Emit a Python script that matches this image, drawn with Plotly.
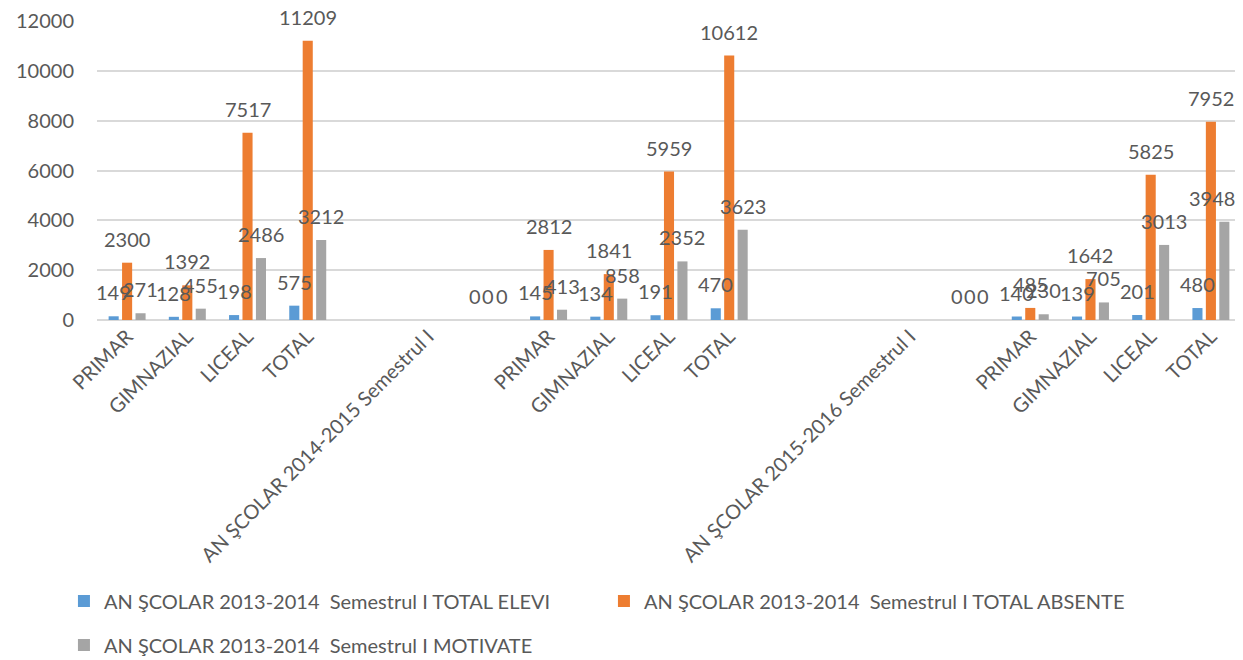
import plotly.graph_objects as go

categories = ["PRIMAR", "GIMNAZIAL", "LICEAL", "TOTAL", "", "AN ŞCOLAR 2014-2015 Semestrul I", "",
              "PRIMAR", "GIMNAZIAL", "LICEAL", "TOTAL", "", "", "AN ŞCOLAR 2015-2016 Semestrul I", "",
              "PRIMAR", "GIMNAZIAL", "LICEAL", "TOTAL"]

total_elevi = [149, 128, 198, 575, None, None, 0,
               145, 134, 191, 470, None, None, None, 0,
               140, 139, 201, 480]
total_absente = [2300, 1392, 7517, 11209, None, None, 0,
                 2812, 1841, 5959, 10612, None, None, None, 0,
                 485, 1642, 5825, 7952]
motivate = [271, 455, 2486, 3212, None, None, 0,
            413, 858, 2352, 3623, None, None, None, 0,
            230, 705, 3013, 3948]

series_names = ["AN ŞCOLAR 2013-2014  Semestrul I TOTAL ELEVI",
                "AN ŞCOLAR 2013-2014  Semestrul I TOTAL ABSENTE",
                "AN ŞCOLAR 2013-2014  Semestrul I MOTIVATE"]
series_values = [total_elevi, total_absente, motivate]
colors = ["#5B9BD5", "#ED7D31", "#A5A5A5"]

FONT = "Lato"
TXT = "#595959"
# the page body adds an 8px margin, so the figure is drawn 8px smaller
W, H = 1235, 652
ML, MR, MT, MB = 89, 2, 13, 340
BARGAP = 0.33

x_idx = list(range(len(categories)))
fig = go.Figure()
for i, (name, vals, col) in enumerate(zip(series_names, series_values, colors)):
    fig.add_trace(go.Bar(
        x=x_idx, y=vals, name=name, marker=dict(color=col, line=dict(width=0)),
        legend="legend" if i < 2 else "legend2",
    ))

# data labels (kept inside the chart area at the right edge, as the original does)
cat_px = (W - ML - MR) / len(categories)
pitch = cat_px * (1 - BARGAP) / 3
annotations = []
last = len(categories) - 1
for k, vals in enumerate(series_values):
    for xi, v in zip(x_idx, vals):
        if v is None:
            continue
        at_edge = (xi == last and k == 2)
        annotations.append(dict(
            x=xi, y=v, xref="x", yref="y", text=str(v), showarrow=False,
            xshift=(k - 1) * pitch + (13 if at_edge else 0), yshift=24,
            yanchor="middle", xanchor="right" if at_edge else "center",
            font=dict(family=FONT, size=20, color=TXT),
        ))

fig.update_layout(
    width=W, height=H,
    margin=dict(l=ML, r=MR, t=MT, b=MB, autoexpand=False),
    paper_bgcolor="white", plot_bgcolor="white",
    barmode="group", bargap=BARGAP, bargroupgap=0.25,
    font=dict(family=FONT, size=20, color=TXT),
    annotations=annotations,
    showlegend=True,
    legend=dict(orientation="h", xref="container", yref="container",
                x=0.0453, y=0.1204, xanchor="left", yanchor="top",
                entrywidth=495, entrywidthmode="pixels", itemwidth=30,
                font=dict(family=FONT, size=20, color=TXT), bgcolor="rgba(0,0,0,0)"),
    legend2=dict(orientation="h", xref="container", yref="container",
                 x=0.0453, y=0.053, xanchor="left", yanchor="top", itemwidth=30,
                 font=dict(family=FONT, size=20, color=TXT), bgcolor="rgba(0,0,0,0)"),
    xaxis=dict(tickmode="array", tickvals=x_idx, ticktext=categories, tickangle=-45,
               range=[-0.5, len(categories) - 0.5], showgrid=False, showline=False,
               zeroline=False, ticks="", automargin=False,
               tickfont=dict(family=FONT, size=20, color=TXT)),
    yaxis=dict(range=[0, 12000], dtick=2000, showgrid=True, gridcolor="#D9D9D9", gridwidth=1.5,
               zeroline=True, zerolinecolor="#D9D9D9", zerolinewidth=1.5, showline=False,
               ticks="", ticklabelstandoff=22, tickformat="d", automargin=False,
               tickfont=dict(family=FONT, size=20, color=TXT)),
)

fig.write_html("out.html")
